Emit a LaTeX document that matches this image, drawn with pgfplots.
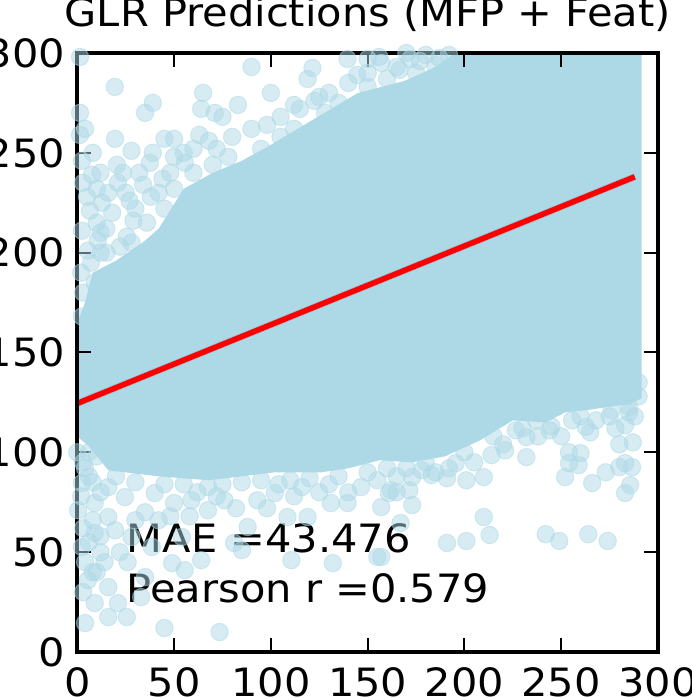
\documentclass[border=0pt]{standalone}
\usepackage{fontspec}
\setmainfont{DejaVu Sans}[FakeStretch=1.065]
\usepackage{pgfplots}
\pgfplotsset{compat=1.18}
\definecolor{lb}{HTML}{ADD8E6}
\definecolor{band}{RGB}{130,170,190}
\pgfplotstableread{
x y
1.4 298
19.4 283
90 293
121.5 292.5
119 287
139.6 297
65 280
39 275
35 270
1.4 270
64 272
71 270
75 268
83 274
100 280
112 274
122.5 276
130 280
144.6 289
157 295
156 298
166.5 291.5
177 296
187 297.5
150 297
170 300
180 299
1.4 259
19.5 257
45 257
50 257
63 259
68 256
28 251
39 250
50 248
20.5 244
23.6 240
37.5 245
7.6 239
2.4 246
55.5 245
16 230
34 234
44 237
12.7 225
27 226
6.5 221
18 220
29 216
10.6 206
25.6 208
5.5 201
36 215
21 235
2.4 211
9 185
2.4 168
3 180
7 195
12 200
2 190
5 228
10 215
15 212
3 235
8 250
12 240
4 262
15 200
22 203
28 205
12 210
30 222
38 228
42 230
25 230
10 232
32 240
48 240
55 250
60 252
72 252
80 258
90 262
98 264
105 268
115 272
125 278
140 285
150 290
165 293
172 297
45 222
50 232
60 240
70 244
78 248
95 252
105 258
112 262
128 270
135 275
150 283
160 287
175 290
185 294
192 299
4 14.5
45 12
73.5 10
16 17.5
25.6 17.5
9 24.5
21 24.5
5.5 36
16 32.5
33 27.5
35 37.5
49 44.5
55.5 41
64 46
85 51
110.6 46
132 44.5
155 47.6
38.5 52.6
2.4 52.6
9 59.6
19.5 61
28 57.6
54 57.6
81 54.6
88 62.6
108.6 67.6
119 67.6
139.6 74.6
131 74.6
157 72.6
0.4 71
9 74.6
16 67.6
2.4 84.6
24.6 77.6
40 79.6
50 74.6
59 76
67.5 71
76 76
93 76
102 79.6
116 82.6
146.6 82.6
162 81
16 82.6
67.5 82.6
3 95
6 88
2 78
8 66
4 45
10 40
3 30
12 50
6 100
0 100
4 92
8 85
12 80
3 62
6 55
12 58
14 45
8 40
22 50
26 45
30 66
35 70
42 66
48 68
58 68
62 80
72 78
82 72
98 72
104 84
112 78
125 80
130 84
140 80
155 86
165 88
170 92
185 90
192 92
205 95
220 104
238 108
250 108
265 110
278 112
288 118
290 128
290 135
287 105
280 104
191 54.6
201 55.6
210 67.6
213 58.6
242 59
249 55.6
264 59
274 55.6
167 64.6
157 47.6
173 73.6
165 80
171.5 81
183 88.6
191 87
201 86
210 87.6
195.5 94.6
214 98.6
221 101
232 97.6
232 107.6
244 111
252 87.6
254 94.6
254 100
260 99.6
259 93.6
266 84.6
273 90
280 92.6
283 94.6
286.6 92.6
283 79.6
285.6 83.6
262.7 112.7
268 116
283 113.6
285 122.7
266 127.7
269.5 136
276 121
255.6 116
237 116
226.6 111
161 79.6
178 91
173 87.6
10 98
20 88
30 85
45 84
55 84
75 84
85 85
95 86
110 86
120 87
135 88
150 90
160 92
180 95
200 100
215 108
230 112
245 113
260 118
275 118
285 120
}\scatterpts
\begin{document}
\begin{tikzpicture}
\begin{axis}[
  scale only axis, width=580.7pt, height=599pt,
  at={(0,0)}, anchor=south west,
  xmin=0, xmax=300, ymin=0, ymax=300,
  axis on top,
  axis line style={line width=4pt, black},
  tick style={line width=2pt, black},
  major tick length=14pt, tick align=inside,
  xtick={0,50,...,300}, ytick={0,50,...,300},
  /pgf/number format/assume math mode=true,
  tick label style={font=\fontsize{39}{45}\selectfont, inner sep=0pt},
  xticklabel shift=15pt,
  yticklabel shift=12pt,
  title={GLR Predictions (MFP + Feat)},
  title style={font=\fontsize{39}{45}\selectfont, at={(0.5,1)}, anchor=base, yshift=20pt, inner sep=0pt},
]
\addplot[fill=lb, draw=none] coordinates {
(0,108) (0,165) (4,175) (8,190) (20,196) (35,206) (42,212) (55,232) (70,240) (85,246) (100,254) (119,265) (145,280) (169,286) (185,293) (195,300) (291.5,300) (291.5,127) (285,124) (276,123) (262,121) (252,120) (242,115) (225,116) (208,106) (190,98) (173,95) (156,96) (140,92) (126,90) (102,90) (68,86) (42,88) (16,91) (6,103)
} -- cycle;
\addplot[only marks, mark=*, mark size=8.7pt, mark options={fill=lb, draw=lb, fill opacity=0.5, draw opacity=0.5, line width=1pt}] table[x=x, y=y] {\scatterpts};
\addplot[band, line width=7pt, opacity=0.5] coordinates {(0,124.5) (288,238)};
\addplot[red, line width=5.5pt] coordinates {(0,124.5) (288,238)};
\node[anchor=base west, inner sep=0pt, font=\fontsize{39}{45}\selectfont] at (axis cs:25.5,49.6) {MAE =43.476};
\node[anchor=base west, inner sep=0pt, font=\fontsize{39}{45}\selectfont] at (axis cs:25.5,25) {Pearson r =0.579};
\end{axis}
\pgfresetboundingbox
\path (-77.3pt,-46pt) rectangle (613.7pt,652pt);
\end{tikzpicture}
\end{document}
